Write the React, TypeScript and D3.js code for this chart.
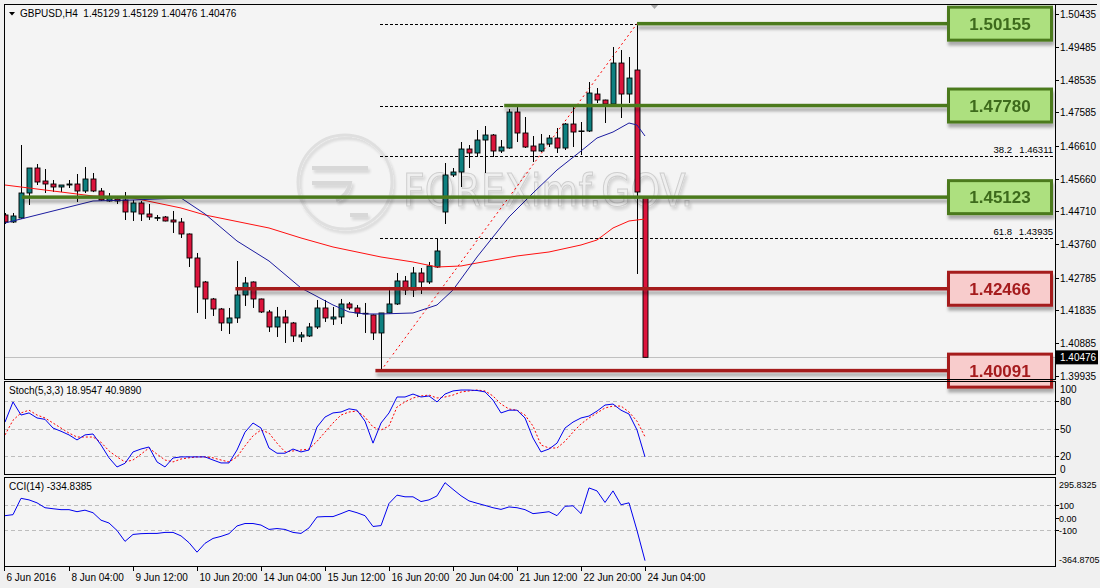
import * as d3 from 'd3'

// GBPUSD H4, one value per bar (bar 0 = 6 Jun 20:00, bar 80 = 24 Jun 04:00)
const opens = [
  1.44605, 1.44402, 1.44518, 1.45243, 1.45968, 1.45591, 1.45504, 1.45417, 1.45475, 1.45504,
  1.45301, 1.45649, 1.45301, 1.45011, 1.45069, 1.4504, 1.44692, 1.44953, 1.44634, 1.4451,
  1.44547, 1.4446, 1.44402, 1.44054, 1.43358, 1.42662, 1.42169, 1.41879, 1.41473, 1.41618,
  1.42285, 1.42662, 1.42169, 1.41792, 1.41357, 1.41647, 1.41473, 1.41067, 1.41096, 1.41357,
  1.41908, 1.41589, 1.41647, 1.42024, 1.41908, 1.41734, 1.41705, 1.41183, 1.41763, 1.42024,
  1.42691, 1.4243, 1.42923, 1.42662, 1.43097, 1.44692, 1.45765, 1.45852, 1.46519, 1.46403,
  1.4678, 1.46925, 1.46461, 1.46548, 1.47592, 1.46983, 1.46606, 1.46461, 1.46664, 1.46838,
  1.46548, 1.47244, 1.47035, 1.47041, 1.48114, 1.4794, 1.47824, 1.49013, 1.48114, 1.4881,
  1.45129,
]
const highs = [
  1.44663, 1.44663, 1.46635, 1.45968, 1.46084, 1.45939, 1.4562, 1.45475, 1.4562, 1.45794,
  1.45997, 1.45823, 1.45388, 1.45243, 1.45127, 1.45272, 1.4504, 1.45011, 1.44924, 1.44605,
  1.44576, 1.44721, 1.44518, 1.4407, 1.43503, 1.42691, 1.42198, 1.41908, 1.41908, 1.43271,
  1.42807, 1.4268, 1.4218, 1.4185, 1.41937, 1.4185, 1.41502, 1.41212, 1.41473, 1.4214,
  1.4214, 1.41937, 1.42169, 1.42082, 1.41995, 1.42053, 1.4172, 1.41763, 1.42517, 1.42923,
  1.42836, 1.43097, 1.43068, 1.43242, 1.43909, 1.46113, 1.45968, 1.46722, 1.46635, 1.4707,
  1.47186, 1.46954, 1.4678, 1.47679, 1.47737, 1.47447, 1.46896, 1.46954, 1.46925, 1.47128,
  1.47273, 1.47737, 1.47302, 1.48462, 1.48288, 1.4795, 1.49477, 1.4939, 1.49187, 1.50155,
  1.45129,
]
const lows = [
  1.44344, 1.44373, 1.4449, 1.44895, 1.45475, 1.45243, 1.45272, 1.45272, 1.45388, 1.44982,
  1.45243, 1.4527, 1.45011, 1.4499, 1.44924, 1.4446, 1.44431, 1.44431, 1.4446, 1.44431,
  1.4442, 1.44083, 1.43938, 1.43097, 1.41763, 1.41589, 1.41676, 1.41241, 1.41154, 1.41473,
  1.41966, 1.41908, 1.41763, 1.41212, 1.41067, 1.40893, 1.40922, 1.40922, 1.41067, 1.41299,
  1.41502, 1.41415, 1.41444, 1.4185, 1.41647, 1.41183, 1.4098, 1.40091, 1.4175, 1.41995,
  1.42285, 1.42227, 1.42314, 1.42604, 1.43068, 1.44344, 1.45707, 1.45417, 1.45968, 1.46287,
  1.45823, 1.46287, 1.46403, 1.4653, 1.46722, 1.46548, 1.46142, 1.46432, 1.46577, 1.46403,
  1.4649, 1.46577, 1.46345, 1.47012, 1.47853, 1.47273, 1.4781, 1.47418, 1.47853, 1.42894,
  1.40476,
]
const closes = [
  1.44402, 1.44576, 1.45243, 1.45968, 1.45562, 1.45504, 1.45417, 1.45475, 1.45504, 1.45301,
  1.45649, 1.45301, 1.4504, 1.45127, 1.45011, 1.44692, 1.44953, 1.44634, 1.44547, 1.4453,
  1.44431, 1.44402, 1.44054, 1.43358, 1.42517, 1.42169, 1.41879, 1.41473, 1.41618, 1.42285,
  1.42633, 1.42169, 1.41792, 1.41357, 1.41647, 1.41473, 1.41096, 1.41125, 1.41357, 1.41908,
  1.41618, 1.41647, 1.42024, 1.41908, 1.41763, 1.41745, 1.41183, 1.41763, 1.42024, 1.42691,
  1.4243, 1.42923, 1.42662, 1.43126, 1.43561, 1.45765, 1.45852, 1.46519, 1.46403, 1.4678,
  1.46925, 1.46461, 1.46577, 1.47592, 1.46983, 1.46577, 1.46461, 1.46664, 1.46838, 1.46548,
  1.47244, 1.47012, 1.47035, 1.48143, 1.4794, 1.47824, 1.49013, 1.48114, 1.48578, 1.45272,
  1.40476,
]

// moving averages read at sample bars: [bar, price]
const maFast: [number, number][] = [
  [0, 1.44373], [11, 1.45011], [16, 1.4504], [22, 1.45098], [25, 1.44634], [29, 1.43851],
  [33, 1.43271], [37, 1.42488], [41, 1.41995], [43, 1.41792], [45, 1.41734], [47, 1.41734],
  [51, 1.41763], [54, 1.41995], [56, 1.4243], [59, 1.43387], [63, 1.44547], [66, 1.45243],
  [69, 1.4591], [72, 1.46461], [74, 1.46838], [76, 1.47012], [78, 1.47273], [79, 1.47215],
  [80, 1.46896],
]
const maSlow: [number, number][] = [
  [0, 1.45475], [11, 1.45156], [16, 1.45098], [22, 1.44808], [25, 1.44605], [33, 1.44228],
  [37, 1.43938], [41, 1.43677], [47, 1.43387], [51, 1.43242], [54, 1.43097], [57, 1.43126],
  [59, 1.43213], [64, 1.43416], [68, 1.43532], [72, 1.43735], [74, 1.4388], [76, 1.44228],
  [78, 1.44431], [80, 1.44489],
]

const stochMain = [
  57, 79, 64.7, 67, 61.5, 60, 50.5, 47, 43, 37.5, 43, 44, 32, 18, 8, 12, 24.4, 27.6, 29.8, 13.5,
  8, 17.8, 19, 19, 19, 19, 15.6, 12.4, 12.4, 26.5, 46, 56, 50.5, 28.7, 23, 23, 27.6, 24.4, 26.5, 51.6,
  62.5, 67, 68, 71.5, 70, 58, 34, 56, 67, 84.4, 84.4, 87.6, 84.4, 85.5, 79, 87.6, 91, 92, 92, 91.5,
  90, 81, 67, 70, 70, 61.5, 39.6, 24.4, 27.6, 34, 50.5, 57, 61.5, 63.6, 69, 75.6, 76.7, 70, 65.8, 48.4,
  18.9547,
]
const stochSignal = [
  43, 59, 67, 70, 64.7, 61.5, 56, 50.5, 45, 40.7, 40.7, 40.7, 35, 25.5, 19, 13.5, 15.6, 22, 28.7, 22,
  15.6, 13.5, 16.7, 18, 19, 19, 18, 15.6, 13.5, 19, 31, 42, 48.4, 45, 34, 24.4, 25.5, 26.5, 27.6, 36,
  46, 56, 64.7, 68, 69, 62.5, 51.6, 48.4, 52.7, 73.5, 79, 83.3, 85.5, 86.5, 83.3, 84.4, 86.5, 89.8, 91, 92,
  91, 85.5, 76.7, 71.3, 70, 64.7, 52.7, 32, 28.7, 28.7, 36, 46, 55, 61.5, 67, 72.4, 74.5, 74.5, 68, 58,
  40.989,
]
const cciValues = [
  15, 23, 150, 138, 115, 77, 69, 62, 62, 46, 58, 38, -20, -42, -100, -185, -131, -125, -123, -123,
  -115, -115, -142, -195, -269, -200, -162, -146, -125, -65, -46, -46, -58, -92, -85, -92, -115, -123, -80, 5,
  8, 8, 31, 56, 38, 15, -69, -62, 110, 175, 162, 162, 125, 138, 169, 272, 220, 170, 130, 112,
  95, 77, 64, 83, 77, 62, 31, 38, 46, 15, 88, 92, 31, 231, 208, 118, 208, 100, 115, -100,
  -334.8385,
]

const timeTickBars = [0, 8, 16, 24, 32, 40, 48, 56, 64, 72, 80]
const timeTickLabels = [
  '6 Jun 2016', '8 Jun 04:00', '9 Jun 12:00', '10 Jun 20:00', '14 Jun 04:00', '15 Jun 12:00',
  '16 Jun 20:00', '20 Jun 04:00', '21 Jun 12:00', '22 Jun 20:00', '24 Jun 04:00',
]
const priceTicks = [1.50435, 1.49485, 1.48535, 1.47585, 1.4661, 1.4566, 1.4471, 1.4376, 1.42785, 1.41835, 1.40885, 1.39935]
const stochTicks = [100, 80, 50, 20, 0]
const stochLevels = [80, 50, 20]
const cciTicks = [295.8325, 100, 0, -100, -364.8705]
const cciTickLabels = ['295.8325', '100', '0.00', '-100', '-364.8705']
const cciLevels = [100, -100]

// drawn support / resistance levels with their boxes
const levelPrices = [1.50155, 1.4778, 1.45123, 1.42466, 1.40091]
const levelStartBars = [79, 62.4, 2.1, 28.8, 46.3]
const levelIsGreen = [true, true, true, false, false]

// fibonacci retracement from the 16 Jun low to the 24 Jun high
const fibLevels = [1.50155, 1.4778, 1.46311, 1.45123, 1.43935, 1.40091]
const fibNames = ['0.0', '23.6', '38.2', '50.0', '61.8', '100.0']
const fibLowBar = 47
const fibHighBar = 79

const symbol = 'GBPUSD,H4'
const lastPrice = 1.40476

const PL = 4
const PR = 1055
const MAIN = { top: 4, bottom: 379 }
const STOCH = { top: 381, bottom: 474 }
const CCIP = { top: 477, bottom: 566 }
const BULL = '#0e8080'
const BEAR = '#dc143c'
const font = "'Liberation Sans', Arial, sans-serif"

export default function App() {
  const x = d3.scaleLinear().domain([0, 80]).range([5, 645])
  const y = d3.scaleLinear().domain([1.39935, 1.50435]).range([376, 14])
  const ys = d3.scaleLinear().domain([0, 100]).range([474.3, 382.7])
  const yc = d3.scaleLinear().domain([-364.8705, 295.8325]).range([564.5, 479.6])

  const maLine = d3.line<[number, number]>().x((d) => x(d[0])).y((d) => y(d[1]))
  const stochLine = d3.line<number>().x((_, i) => x(i)).y((d) => ys(d))
  const cciLine = d3.line<number>().x((_, i) => x(i)).y((d) => yc(d))

  const boxL = 947
  const boxR = 1053
  const boxH = 33
  const fmt = d3.format('.5f')
  const last = opens.length - 1
  // fib captions that are not hidden under a level box
  const fibShown = fibLevels.map((p) => !levelPrices.includes(p))

  return (
    <div style={{ position: 'fixed', left: 0, top: 0 }}>
      <svg width={1100} height={588} style={{ display: 'block', background: '#f0f0f0' }} fontFamily={font}>
        <defs>
          <filter id="lvlShadow" filterUnits="userSpaceOnUse" x={0} y={0} width={1100} height={588}>
            <feDropShadow dx="1" dy="4" stdDeviation="1.8" floodColor="#000" floodOpacity="0.3" />
          </filter>
          <filter id="wmShadow" filterUnits="userSpaceOnUse" x={0} y={0} width={1100} height={588}>
            <feDropShadow dx="2" dy="3" stdDeviation="1.5" floodColor="#000" floodOpacity="0.15" />
          </filter>
          <clipPath id="mainClip">
            <rect x={PL} y={MAIN.top} width={PR - PL} height={MAIN.bottom - MAIN.top} />
          </clipPath>
        </defs>

        {/* panels */}
        <rect x={PL} y={MAIN.top} width={PR - PL} height={MAIN.bottom - MAIN.top} fill="#f4f4f4" />
        <rect x={PL} y={STOCH.top} width={PR - PL} height={STOCH.bottom - STOCH.top} fill="#f4f4f4" />
        <rect x={PL} y={CCIP.top} width={PR - PL} height={CCIP.bottom - CCIP.top} fill="#f4f4f4" />

        {/* watermark */}
        <g filter="url(#wmShadow)" opacity={0.85}>
          <circle cx={345} cy={182} r={47} fill="none" stroke="#dcdcdc" strokeWidth={3} />
          <path d="M312,168 H368 M312,183 H350 Q348,196 336,200 M350,215 H368" fill="none" stroke="#d4d4d4" strokeWidth={4} />
          <text x={403} y={206} fontSize={44} fontFamily="'DejaVu Sans', sans-serif" textLength={290} lengthAdjust="spacingAndGlyphs" fill="#efefef" stroke="#c8c8c8" strokeWidth={1.1}>FOREXimf.GOV.</text>
        </g>

        <g clipPath="url(#mainClip)">
          {/* fib dashed levels */}
          {fibLevels.map((p) => (
            <line key={p} x1={x(fibLowBar) - 1} x2={PR - 2} y1={Math.round(y(p)) + 0.5} y2={Math.round(y(p)) + 0.5} stroke="#000" strokeWidth={1} strokeDasharray="3,2" />
          ))}
          {fibLevels.map((p, i) => fibShown[i] && (
            <g key={'fl' + p} fontSize={9.5} fill="#000" textAnchor="end">
              <text x={1012} y={y(p) - 3}>{fibNames[i]}</text>
              <text x={1053} y={y(p) - 3}>{fmt(p)}</text>
            </g>
          ))}
          <line x1={x(fibLowBar)} y1={y(lows[fibLowBar])} x2={x(fibHighBar)} y2={y(highs[fibHighBar])} stroke="#ff0000" strokeWidth={1} strokeDasharray="2,3" />

          {/* last price line */}
          <line x1={PL} x2={PR} y1={Math.round(y(lastPrice)) + 0.5} y2={Math.round(y(lastPrice)) + 0.5} stroke="#c0c0c0" strokeWidth={1} />

          {/* candles */}
          {opens.map((o, i) => {
            const c = closes[i]
            const cx = Math.round(x(i)) + 0.5
            const top = y(Math.max(o, c))
            const bot = y(Math.min(o, c))
            const doji = Math.abs(bot - top) < 0.6
            return (
              <g key={i}>
                <line x1={cx} x2={cx} y1={y(highs[i])} y2={y(lows[i])} stroke="#000" strokeWidth={1} />
                {doji ? (
                  <line x1={cx - 3} x2={cx + 3} y1={top} y2={top} stroke="#000" strokeWidth={1.5} />
                ) : (
                  <rect x={cx - 2.5} y={top} width={5} height={bot - top} fill={c > o ? BULL : BEAR} stroke="#000" strokeWidth={0.9} />
                )}
              </g>
            )
          })}

          {/* moving averages */}
          <path d={maLine(maSlow) ?? ''} fill="none" stroke="#ff1010" strokeWidth={1} />
          <path d={maLine(maFast) ?? ''} fill="none" stroke="#1c1ca0" strokeWidth={1} />

          {/* chart shift marker */}
          <path d="M650,4 L659,4 L654.5,9 Z" fill="#a8a8a8" />
        </g>

        {/* level lines */}
        {levelPrices.map((p, i) => (
          <rect key={'ln' + p} x={x(levelStartBars[i])} width={boxL - x(levelStartBars[i])} y={y(p) - 1.75} height={3.5} fill={levelIsGreen[i] ? '#4b7a1e' : '#a51c1f'} filter="url(#lvlShadow)" />
        ))}
        {levelPrices.map((p, i) => (
          <g key={'bx' + p} filter="url(#lvlShadow)">
            <rect x={boxL + 1.5} y={y(p) - boxH / 2} width={boxR - boxL - 3} height={boxH} fill={levelIsGreen[i] ? '#ade07f' : '#f8cccc'} stroke={levelIsGreen[i] ? '#4b7a1e' : '#a51c1f'} strokeWidth={3} />
            <text x={(boxL + boxR) / 2} y={y(p) + 6} textAnchor="middle" fontSize={17} fontWeight="bold" fill={levelIsGreen[i] ? '#3e6b1c' : '#a51c1f'}>{fmt(p)}</text>
          </g>
        ))}

        {/* header texts */}
        <path d="M9,12 L15,12 L12,15.5 Z" fill="#000" />
        <text x={20} y={17} fontSize={10} fill="#000" style={{ whiteSpace: 'pre' }}>{`${symbol}  ${fmt(opens[last])} ${fmt(highs[last])} ${fmt(lows[last])} ${fmt(closes[last])}`}</text>

        {/* stochastic */}
        {stochLevels.map((v) => (
          <line key={'sl' + v} x1={PL} x2={PR} y1={Math.round(ys(v)) + 0.5} y2={Math.round(ys(v)) + 0.5} stroke="#bdbdbd" strokeDasharray="4,3" />
        ))}
        <path d={stochLine(stochSignal) ?? ''} fill="none" stroke="#ff0000" strokeWidth={1} strokeDasharray="2,2" />
        <path d={stochLine(stochMain) ?? ''} fill="none" stroke="#0000ee" strokeWidth={1} />
        <text x={9} y={394} fontSize={10} fill="#000">{`Stoch(5,3,3) ${stochMain[last].toFixed(4)} ${stochSignal[last].toFixed(4)}`}</text>

        {/* CCI */}
        {cciLevels.map((v) => (
          <line key={'cl' + v} x1={PL} x2={PR} y1={Math.round(yc(v)) + 0.5} y2={Math.round(yc(v)) + 0.5} stroke="#bdbdbd" strokeDasharray="4,3" />
        ))}
        <path d={cciLine(cciValues) ?? ''} fill="none" stroke="#0000ee" strokeWidth={1} />
        <text x={9} y={490} fontSize={10} fill="#000">{`CCI(14) ${cciValues[last].toFixed(4)}`}</text>

        {/* panel borders */}
        <rect x={PL + 0.5} y={MAIN.top + 0.5} width={PR - PL} height={MAIN.bottom - MAIN.top} fill="none" stroke="#000" />
        <rect x={PL + 0.5} y={STOCH.top + 0.5} width={PR - PL} height={STOCH.bottom - STOCH.top} fill="none" stroke="#000" />
        <rect x={PL + 0.5} y={CCIP.top + 0.5} width={PR - PL} height={CCIP.bottom - CCIP.top} fill="none" stroke="#000" />
        <line x1={PR + 0.5} x2={1097} y1={MAIN.top + 0.5} y2={MAIN.top + 0.5} stroke="#000" />

        {/* price axis */}
        {priceTicks.map((p) => (
          <g key={'pt' + p}>
            <line x1={PR} x2={PR + 4} y1={Math.round(y(p)) + 0.5} y2={Math.round(y(p)) + 0.5} stroke="#000" />
            <text x={1060} y={y(p) + 4} fontSize={10} fill="#000">{fmt(p)}</text>
          </g>
        ))}
        <rect x={1056} y={y(lastPrice) - 7} width={42} height={14} fill="#000" />
        <text x={1060} y={y(lastPrice) + 4} fontSize={10} fill="#fff">{fmt(lastPrice)}</text>

        {/* stochastic axis */}
        {stochTicks.map((v) => {
          const ty = Math.max(STOCH.top + 8, Math.min(STOCH.bottom - 5, ys(v)))
          return (
            <g key={'st' + v}>
              {v !== 100 && v !== 0 && <line x1={PR} x2={PR + 4} y1={Math.round(ys(v)) + 0.5} y2={Math.round(ys(v)) + 0.5} stroke="#000" />}
              <text x={1060} y={ty + 4} fontSize={10} fill="#000">{v}</text>
            </g>
          )
        })}

        {/* CCI axis */}
        {cciTicks.map((v, i) => {
          const ty = Math.max(CCIP.top + 7, Math.min(CCIP.bottom - 7, yc(v)))
          return (
            <g key={'ct' + v}>
              {i > 0 && i < cciTicks.length - 1 && <line x1={PR} x2={PR + 4} y1={Math.round(yc(v)) + 0.5} y2={Math.round(yc(v)) + 0.5} stroke="#000" />}
              <text x={1059} y={ty + 4} fontSize={9} fill="#000">{cciTickLabels[i]}</text>
            </g>
          )
        })}

        {/* time axis */}
        {timeTickBars.map((b, i) => {
          const tx = i === 0 ? PL + 0.5 : Math.round(x(b)) + 0.5
          return (
            <g key={'tt' + b}>
              <line x1={tx} x2={tx} y1={CCIP.bottom} y2={CCIP.bottom + 5} stroke="#000" />
              <text x={tx + 2} y={581} fontSize={10} fill="#000">{timeTickLabels[i]}</text>
            </g>
          )
        })}
      </svg>
    </div>
  )
}
